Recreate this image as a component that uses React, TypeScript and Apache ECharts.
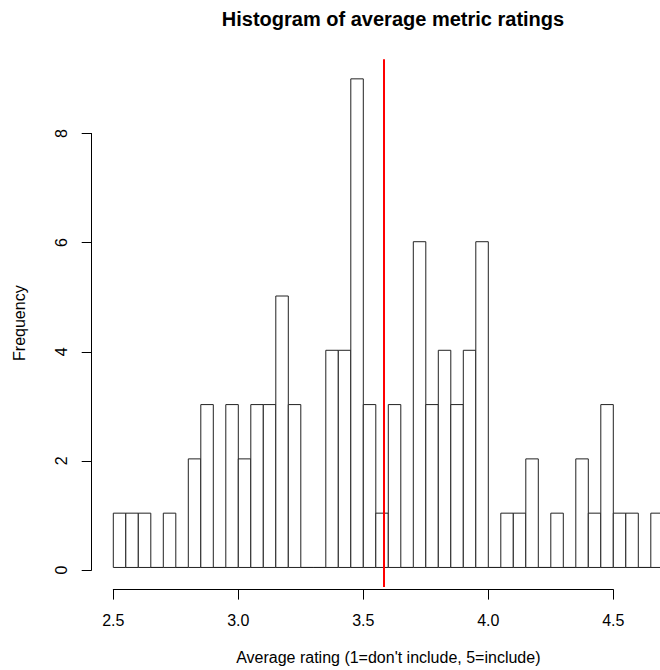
import React, { useEffect, useRef } from "react";
import * as echarts from "echarts";

const titleText = "Histogram of average metric ratings";
const xAxisTitle = "Average rating (1=don't include, 5=include)";
const yAxisTitle = "Frequency";

const binStarts = [
  2.5, 2.55, 2.6, 2.65, 2.7, 2.75, 2.8, 2.85, 2.9, 2.95,
  3.0, 3.05, 3.1, 3.15, 3.2, 3.25, 3.3, 3.35, 3.4, 3.45,
  3.5, 3.55, 3.6, 3.65, 3.7, 3.75, 3.8, 3.85, 3.9, 3.95,
  4.0, 4.05, 4.1, 4.15, 4.2, 4.25, 4.3, 4.35, 4.4, 4.45,
  4.5, 4.55, 4.6, 4.65,
];
const binEnds = [
  2.55, 2.6, 2.65, 2.7, 2.75, 2.8, 2.85, 2.9, 2.95, 3.0,
  3.05, 3.1, 3.15, 3.2, 3.25, 3.3, 3.35, 3.4, 3.45, 3.5,
  3.55, 3.6, 3.65, 3.7, 3.75, 3.8, 3.85, 3.9, 3.95, 4.0,
  4.05, 4.1, 4.15, 4.2, 4.25, 4.3, 4.35, 4.4, 4.45, 4.5,
  4.55, 4.6, 4.65, 4.7,
];
const counts = [
  1, 1, 1, 0, 1, 0, 2, 3, 0, 3,
  2, 3, 3, 5, 3, 0, 0, 4, 4, 9,
  3, 1, 3, 0, 6, 3, 4, 3, 4, 6,
  0, 1, 1, 2, 0, 1, 0, 2, 1, 3,
  1, 1, 0, 1,
];
const meanRating = 3.576;

const xTickMin = 2.5;
const xTickMax = 4.5;
const xTickStep = 0.5;
const yTickMin = 0;
const yTickMax = 8;
const yTickStep = 2;

const FONT = "'Liberation Sans', Arial, Helvetica, sans-serif";

export default function App() {
  const ref = useRef<HTMLDivElement>(null);
  useEffect(() => {
    if (!ref.current) return;
    const chart = echarts.init(ref.current, undefined, { renderer: "svg" });
    const data = binStarts.map((s, i) => [s, binEnds[i], counts[i]]);
    const plotLeft = 91.3;
    const plotTop = 59.3;
    const plotHeight = 530.3;
    const pxPerUnitX = 250;
    const xMinPlot = 2.412;
    const xMaxPlot = 4.788;
    const option: any = {
      animation: false,
      backgroundColor: "#ffffff",
      title: {
        text: titleText,
        left: 388,
        top: 4,
        textAlign: "center",
        textStyle: { fontFamily: FONT, fontSize: 20, fontWeight: "bold", color: "#000" },
      },
      grid: [
        { left: plotLeft, top: plotTop, width: (xMaxPlot - xMinPlot) * pxPerUnitX, height: plotHeight },
        { left: 113.3, top: plotTop, width: 500, height: plotHeight },
        { left: 91.7, top: 133.5, width: 10, height: 436.5 },
      ],
      xAxis: [
        {
          gridIndex: 0, type: "value", min: xMinPlot, max: xMaxPlot,
          axisLine: { show: false }, axisTick: { show: false }, axisLabel: { show: false },
          splitLine: { show: false },
          name: xAxisTitle, nameLocation: "middle", nameGap: 62,
          nameTextStyle: { fontFamily: FONT, fontSize: 16, color: "#000" },
        },
        {
          gridIndex: 1, type: "value", min: xTickMin, max: xTickMax, interval: xTickStep,
          axisLine: { show: true, onZero: false, lineStyle: { color: "#000", width: 1 } },
          axisTick: { show: true, inside: false, length: 10, lineStyle: { color: "#000", width: 1 } },
          axisLabel: {
            show: true, margin: 23, fontFamily: FONT, fontSize: 16, color: "#000",
            formatter: (v: number) => v.toFixed(1),
          },
          splitLine: { show: false },
        },
        {
          gridIndex: 2, type: "value", show: false,
        },
      ],
      yAxis: [
        {
          gridIndex: 0, type: "value", min: -0.36, max: 9.36,
          axisLine: { show: false }, axisTick: { show: false }, axisLabel: { show: false },
          splitLine: { show: false },
          name: yAxisTitle, nameLocation: "middle", nameGap: 64,
          nameTextStyle: { fontFamily: FONT, fontSize: 16, color: "#000" },
        },
        {
          gridIndex: 1, type: "value", show: false, min: 0, max: 1,
        },
        {
          gridIndex: 2, type: "value", min: yTickMin, max: yTickMax, interval: yTickStep,
          axisLine: { show: true, onZero: false, lineStyle: { color: "#000", width: 1 } },
          axisTick: { show: true, inside: false, length: 10, lineStyle: { color: "#000", width: 1 } },
          axisLabel: {
            show: true, margin: 22, rotate: 90, fontFamily: FONT, fontSize: 16, color: "#000",
          },
          splitLine: { show: false },
        },
      ],
      series: [
        {
          type: "custom",
          xAxisIndex: 0,
          yAxisIndex: 0,
          data,
          encode: { x: [0, 1], y: 2 },
          renderItem: (params: any, api: any) => {
            const x0 = api.value(0);
            const x1 = api.value(1);
            const c = api.value(2);
            const p0 = api.coord([x0, 0]);
            const p1 = api.coord([x1, c]);
            return {
              type: "polygon",
              shape: {
                points: [
                  [p0[0], p0[1]],
                  [p0[0], p1[1]],
                  [p1[0], p1[1]],
                  [p1[0], p0[1]],
                ],
              },
              style: { fill: "#ffffff", stroke: "#222222", lineWidth: 1 },
            };
          },
          markLine: {
            silent: true,
            symbol: "none",
            label: { show: false },
            lineStyle: { color: "#ff0000", width: 2, type: "solid" },
            data: [{ xAxis: meanRating }],
          },
          z: 2,
        },
      ],
    };
    chart.setOption(option);
    return () => chart.dispose();
  }, []);
  return (
    <div style={{ position: "fixed", left: 0, top: 0, width: 660, height: 670, overflow: "hidden", background: "#fff" }}>
      <div ref={ref} style={{ width: 720, height: 670 }} />
    </div>
  );
}
